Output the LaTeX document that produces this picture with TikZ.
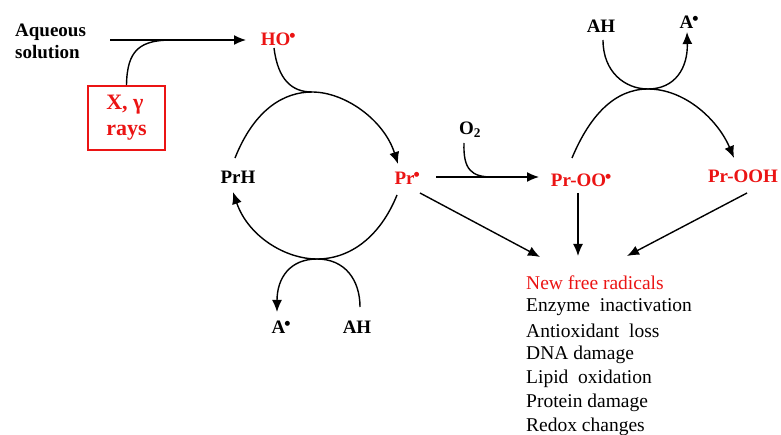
\documentclass[tikz,border=0pt]{standalone}
\usepackage{fontspec}
\setmainfont{Liberation Serif}
\newfontfamily\djv{DejaVu Sans}
\usetikzlibrary{arrows.meta}
\definecolor{rd}{RGB}{235,20,20}
\newcommand{\radot}{\kern-0.8pt\raisebox{8pt}{\djv\fontsize{6.5}{6.5}\selectfont ●}}
\begin{document}
\begin{tikzpicture}[x=1pt,y=-1pt,
  lbl/.style={font=\fontsize{19}{22}\selectfont\bfseries, inner sep=1pt},
  rlbl/.style={lbl, text=rd},
  conn/.style={line width=1.4pt, -{Latex[length=12pt,width=10pt]}},
  plain/.style={line width=1.4pt},
  lst/.style={font=\fontsize{19.5}{24}\selectfont, anchor=west, inner sep=0pt}]
\useasboundingbox (0,0) rectangle (781,435);
% labels
\node[lbl, align=left, anchor=west] (aq) at (14,41) {Aqueous\\solution};
\node[rlbl] (ho) at (278,39) {HO\radot};
\node[draw=rd, line width=1.8pt, minimum width=77pt, minimum height=64pt, inner sep=0pt,
      text=rd, align=left, font=\fontsize{22}{26}\selectfont\bfseries] (xr) at (126.5,118) {X, γ\\rays};
\node[lbl] (prh) at (238,177) {PrH};
\node[rlbl] (pr) at (407,178) {Pr\radot};
\node[lbl] (a1) at (281,327) {A\radot};
\node[lbl] (ah1) at (357,327) {AH};
\node[lbl] (o2) at (470,130) {O\textsubscript{2}};
\node[rlbl] (proo) at (581,180) {Pr-OO\radot};
\node[rlbl] (prooh) at (743,176) {Pr-OOH};
\node[lbl] (ah2) at (601,26) {AH};
\node[lbl] (a2) at (689,22) {A\radot};
% list
\node[lst, text=rd] (l1) at (526,283) {New free radicals};
\node[lst] (l2) at (526,307) {Enzyme\ \ inactivation};
\node[lst] (l3) at (526,331) {Antioxidant\ \ loss};
\node[lst] (l4) at (526,355) {DNA damage};
\node[lst] (l5) at (526,379) {Lipid\ \ oxidation};
\node[lst] (l6) at (526,403) {Protein damage};
\node[lst] (l7) at (526,427) {Redox changes};
% endpoint coordinates
\coordinate (aqE) at (110,40);
\coordinate (hoW) at (246,40);
\coordinate (m1) at (172,40);
\coordinate (hoS) at (274,48);
\coordinate (t1) at (312,92);
\coordinate (prhN) at (235,158);
\coordinate (prhS) at (233,192);
\coordinate (prN) at (398,164);
\coordinate (prS) at (397,195);
\coordinate (b1) at (317,259);
\coordinate (ah1N) at (360,307);
\coordinate (a1N) at (277,312);
\coordinate (prE) at (436,177);
\coordinate (prooW) at (539,177);
\coordinate (o2S) at (464,143);
\coordinate (j2) at (492,177);
\coordinate (prooN) at (572,158);
\coordinate (t2) at (648,89);
\coordinate (proohN) at (734,158);
\coordinate (ah2S) at (603,40);
\coordinate (a2S) at (687,32);
\coordinate (prSE) at (420,193);
\coordinate (prooS) at (578,193);
\coordinate (proohS) at (747,193);
\coordinate (lA) at (540,257);
\coordinate (lB) at (578,256);
\coordinate (lC) at (627,256);
% aqueous -> HO
\draw[conn] (aqE) -- (hoW);
\draw[plain] (xr.north) .. controls (127,50) and (140,40) .. (m1);
% HO curve
\draw[plain] (hoS) .. controls (278,80) and (292,92) .. (t1);
% upper left arc
\draw[conn] (prhN) .. controls (255,108) and (285,92) .. (t1)
   .. controls (345,92) and (384,120) .. (prN);
% lower left arc
\draw[conn] (prS) .. controls (380,237) and (350,259) .. (b1)
   .. controls (285,259) and (248,236) .. (prhS);
% small lower arc
\draw[conn] (ah1N) .. controls (360,280) and (345,259) .. (b1)
   .. controls (290,259) and (277,278) .. (a1N);
% Pr -> Pr-OO
\draw[conn] (prE) -- (prooW);
\draw[plain] (o2S) .. controls (463,170) and (472,177) .. (j2);
% upper right arc
\draw[conn] (prooN) .. controls (590,115) and (615,89) .. (t2)
   .. controls (685,89) and (718,120) .. (proohN);
% AH / A small upper arc
\draw[conn] (ah2S) .. controls (603,72) and (625,89) .. (t2)
   .. controls (675,89) and (688,68) .. (a2S);
% arrows to list
\draw[conn] (prSE) -- (lA);
\draw[conn] (prooS) -- (lB);
\draw[conn] (proohS) -- (lC);
\end{tikzpicture}
\end{document}
